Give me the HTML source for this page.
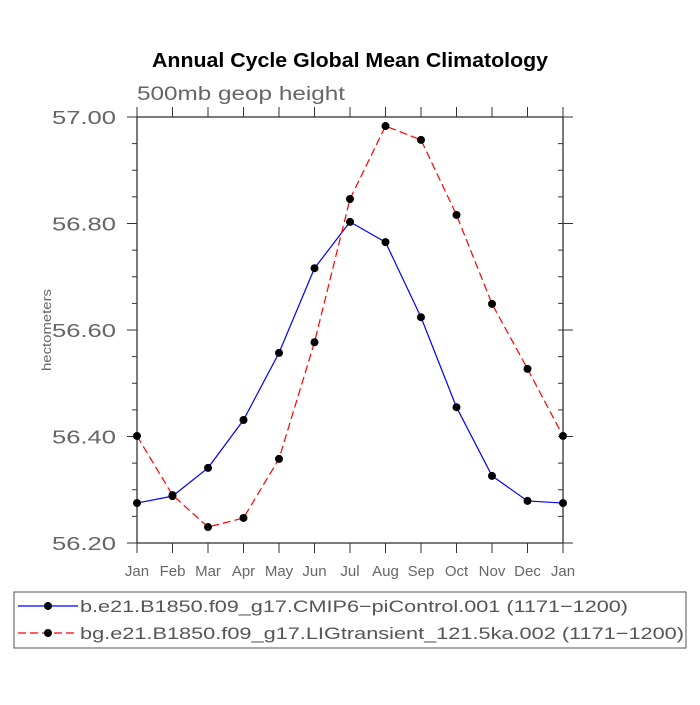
<!DOCTYPE html>
<html><head><meta charset="utf-8"><style>
body{margin:0;background:#fff}
</style></head><body>
<svg id="c" width="700" height="700" xmlns="http://www.w3.org/2000/svg" font-family="Liberation Sans, sans-serif">
<text x="350" y="67" text-anchor="middle" font-weight="bold" font-size="20" fill="#000" textLength="396" lengthAdjust="spacingAndGlyphs">Annual Cycle Global Mean Climatology</text>
<text x="137" y="100" font-size="19" fill="#666" textLength="208" lengthAdjust="spacingAndGlyphs">500mb geop height</text>
<text transform="translate(51,330) rotate(-90)" text-anchor="middle" font-size="13" fill="#666" textLength="82" lengthAdjust="spacingAndGlyphs">hectometers</text>
<g id="axes"></g><g id="series"></g>
<g>
<rect x="14" y="592" width="672" height="56" fill="none" stroke="#555" stroke-width="1"/>
<g>
<line x1="18" y1="606" x2="78" y2="606" stroke="#00f" stroke-width="1.2"/><circle cx="48" cy="606" r="4" fill="#000"/>
<text x="80" y="612" font-size="17" fill="#555" textLength="548" lengthAdjust="spacingAndGlyphs">b.e21.B1850.f09_g17.CMIP6−piControl.001 (1171−1200)</text></g>
<g>
<line x1="18" y1="633" x2="78" y2="633" stroke="#f00" stroke-width="1.2" stroke-dasharray="8,4"/><circle cx="48" cy="633" r="4" fill="#000"/>
<text x="80" y="639" font-size="17" fill="#555" textLength="604" lengthAdjust="spacingAndGlyphs">bg.e21.B1850.f09_g17.LIGtransient_121.5ka.002 (1171−1200)</text></g>
</g>
</svg>
<script>
const months=["Jan","Feb","Mar","Apr","May","Jun","Jul","Aug","Sep","Oct","Nov","Dec","Jan"];
const yTicks=[56.2,56.4,56.6,56.8,57.0];
const blueValues=[56.275,56.288,56.341,56.431,56.557,56.716,56.803,56.765,56.624,56.455,56.326,56.279,56.275];
const redValues=[56.401,56.290,56.230,56.247,56.358,56.577,56.846,56.983,56.957,56.816,56.649,56.527,56.401];
const X0=137,X1=563,Y0=543,Y1=117,YMIN=56.2,YMAX=57.0;
const xs=i=>X0+i*(X1-X0)/(months.length-1);
const ys=v=>Y0-(v-YMIN)/(YMAX-YMIN)*(Y0-Y1);
const NS="http://www.w3.org/2000/svg";
function mk(t,a,p){const e=document.createElementNS(NS,t);for(const k in a)e.setAttribute(k,a[k]);p.appendChild(e);return e;}
const ax=document.getElementById('axes');
const frame=mk('rect',{x:X0,y:Y1,width:X1-X0,height:Y0-Y1,fill:'none',stroke:'#333','stroke-width':1.3},ax);


months.forEach((m,i)=>{const x=xs(i);
mk('line',{x1:x,y1:Y0,x2:x,y2:Y0+10,stroke:'#333'},ax);
mk('line',{x1:x,y1:Y1,x2:x,y2:Y1-10,stroke:'#333'},ax);
const t=mk('text',{x:x,y:Y0+33,'text-anchor':'middle','font-size':15,fill:'#666'},ax);t.textContent=m;

});
yTicks.forEach(v=>{const y=ys(v);
mk('line',{x1:X0-10,y1:y,x2:X0,y2:y,stroke:'#333'},ax);
mk('line',{x1:X1,y1:y,x2:X1+10,y2:y,stroke:'#333'},ax);
const t=mk('text',{x:X0-21,y:y+7,'text-anchor':'end','font-size':18,fill:'#666',textLength:64,lengthAdjust:'spacingAndGlyphs'},ax);t.textContent=v.toFixed(2);

});
for(let v=YMIN+0.05;v<YMAX;v+=0.05){const y=ys(v);
mk('line',{x1:X0-5,y1:y,x2:X0,y2:y,stroke:'#333'},ax);
mk('line',{x1:X1-5,y1:y,x2:X1,y2:y,stroke:'#333'},ax);}
const sg=document.getElementById('series');
function series(vals,color,dash,name){const g=mk('g',{},sg);


const a={points:vals.map((v,i)=>xs(i)+','+ys(v)).join(' '),fill:'none',stroke:color,'stroke-width':1.2};
if(dash)a['stroke-dasharray']=dash;mk('polyline',a,g);
vals.forEach((v,i)=>{const c=mk('circle',{cx:xs(i),cy:ys(v),r:4,fill:'#000'},g);

});}
series(blueValues,'#00f',null,'series-picontrol');
series(redValues,'#f00','8,4','series-ligtransient');
</script>
</body></html>
